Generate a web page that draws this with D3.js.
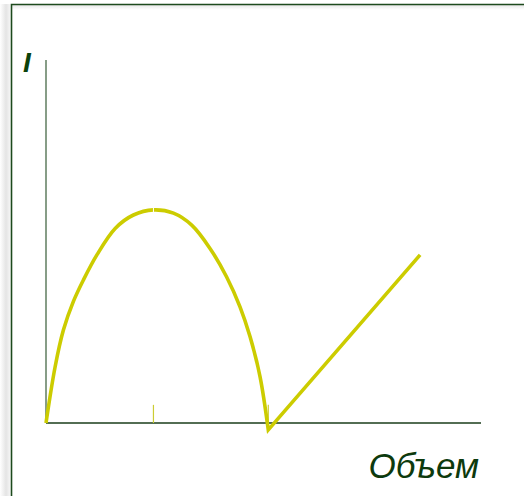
<!DOCTYPE html>
<html><head><meta charset="utf-8">
<script src="https://cdn.jsdelivr.net/npm/d3@7"></script>
<style>html,body{margin:0;padding:0;background:#fff;}svg{display:block;}</style>
</head><body>
<svg id="c" width="524" height="496"></svg>
<script>
// Data (abstract units)
const archX = [0, 0.21, 0.40, 0.63, 0.86, 1.17, 1.59, 2.01, 2.47, 2.93, 3.35, 3.77, 4.15, 4.46, 4.69, 4.92, 5.11];
const archY = [0, 1.55, 2.56, 3.35, 3.94, 4.63, 5.36, 5.73, 5.87, 5.78, 5.45, 4.81, 4.03, 3.20, 2.38, 1.28, -0.19];
const lineX = [5.11, 8.60];
const lineY = [-0.19, 4.63];
const tickX = [2.47, 5.11];
const yLabel = "I";
const xLabel = "Объем";

const svg = d3.select("#c");
const x = d3.scaleLinear().domain([0, 10]).range([46, 481]);
const y = d3.scaleLinear().domain([0, 10]).range([423, 60]);

// frame shadow
const defs = svg.append("defs");
const g1 = defs.append("linearGradient").attr("id","sl").attr("x1","0").attr("x2","1");
g1.append("stop").attr("offset","0").attr("stop-color","#fff");
g1.append("stop").attr("offset","0.6").attr("stop-color","#e4e4e4");
g1.append("stop").attr("offset","1").attr("stop-color","#f4f4f4");
svg.append("rect").attr("x",0).attr("y",4).attr("width",10).attr("height",492).attr("fill","url(#sl)");
const g2 = defs.append("linearGradient").attr("id","st").attr("x1","0").attr("x2","0").attr("y1","0").attr("y2","1");
g2.append("stop").attr("offset","0").attr("stop-color","#e8e8e8");
g2.append("stop").attr("offset","1").attr("stop-color","#fff");
svg.append("rect").attr("x",12).attr("y",5).attr("width",512).attr("height",5).attr("fill","url(#st)");

// frame
svg.append("path").attr("d","M11.5,496 V4.5 H524").attr("fill","none").attr("stroke","#1d4a1d").attr("stroke-width",1.6);

// axes
svg.append("line").attr("x1",x(0)).attr("x2",x(0)).attr("y1",y(10)).attr("y2",y(0))
  .attr("stroke","#5f7d5f").attr("stroke-width",1.5);
svg.append("line").attr("x1",x(0)).attr("x2",x(10)).attr("y1",y(0)).attr("y2",y(0))
  .attr("stroke","#1a3d1a").attr("stroke-width",1.5);

// ticks
svg.selectAll(".tk").data(tickX).enter().append("line")
  .attr("x1",d=>x(d)).attr("x2",d=>x(d)).attr("y1",y(0.5)).attr("y2",y(0))
  .attr("stroke","#cccc33").attr("stroke-width",1.2);

// curve
const arch = archX.map((d,i)=>[d, archY[i]]);
const lineGen = d3.line().x(d=>x(d[0])).y(d=>y(d[1])).curve(d3.curveCatmullRom.alpha(0.5));
let dStr = lineGen(arch) + "L" + x(lineX[1]) + "," + y(lineY[1]);
svg.append("path").attr("d", dStr).attr("fill","none").attr("stroke","#cccc00")
  .attr("stroke-width",3.6).attr("stroke-linejoin","miter").attr("stroke-miterlimit",10);

// small gap at peak
svg.append("line").attr("x1",x(archX[8])).attr("x2",x(archX[8]))
  .attr("y1",y(archY[8])-3).attr("y2",y(archY[8])+3).attr("stroke","#fff").attr("stroke-width",1);

// labels
svg.append("text").attr("x",23).attr("y",72).text(yLabel)
  .attr("font-family","Liberation Sans, Arial, sans-serif").attr("font-weight","bold").attr("font-style","italic")
  .attr("font-size",28).attr("fill","#0b420b");
svg.append("text").attr("x",479).attr("y",478).attr("text-anchor","end").text(xLabel)
  .attr("font-family","Liberation Sans, Arial, sans-serif").attr("font-style","italic")
  .attr("font-size",35).attr("fill","#0d3a0d");
</script>
</body></html>
